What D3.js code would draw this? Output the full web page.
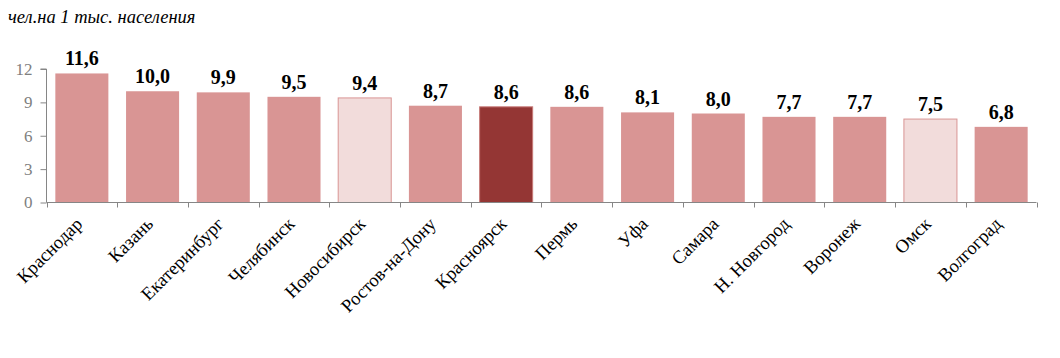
<!DOCTYPE html>
<html><head><meta charset="utf-8">
<script src="https://cdn.jsdelivr.net/npm/d3@7"></script>
<style>body{margin:0;background:#fff}svg{display:block}</style>
</head><body>
<script>
const cities = ["Краснодар","Казань","Екатеринбург","Челябинск","Новосибирск","Ростов-на-Дону","Красноярск","Пермь","Уфа","Самара","Н. Новгород","Воронеж","Омск","Волгоград"];
const values = [11.6,10.0,9.9,9.5,9.4,8.7,8.6,8.6,8.1,8.0,7.7,7.7,7.5,6.8];
const kinds = ["n","n","n","n","light","n","dark","n","n","n","n","n","light","n"];
const yTicks = [0,3,6,9,12];
const unitTitle = "чел.на 1 тыс. населения";

const W=1060,H=358;
const svg=d3.select("body").append("svg").attr("width",W).attr("height",H);
const x=d3.scaleBand().domain(cities).range([46.5,1036.5]).paddingInner(0.25).paddingOuter(0.125);
const y=d3.scaleLinear().domain([0,12]).range([202.5,69]);
const fill={n:"#d99594",light:"#f2dcdb",dark:"#943634"};
const stroke={n:"none",light:"#d99594",dark:"#c77a78"};

svg.append("text").attr("x",8).attr("y",23).attr("font-family","Liberation Serif").attr("font-style","italic").attr("font-size",18.5).attr("fill","#000").text(unitTitle);

svg.selectAll("rect.bar").data(cities).enter().append("rect")
 .attr("x",d=>x(d)).attr("width",x.bandwidth())
 .attr("y",(d,i)=>y(values[i])).attr("height",(d,i)=>y(0)-y(values[i]))
 .attr("fill",(d,i)=>fill[kinds[i]]).attr("stroke",(d,i)=>stroke[kinds[i]]).attr("stroke-width",1);

svg.selectAll("text.val").data(cities).enter().append("text")
 .attr("x",d=>x(d)+x.bandwidth()/2).attr("y",(d,i)=>y(values[i])-8)
 .attr("text-anchor","middle").attr("font-family","Liberation Serif").attr("font-weight","bold").attr("font-size",20)
 .text((d,i)=>d3.format(".1f")(values[i]).replace(".",","));

// y axis
const ya=svg.append("g").attr("transform","translate(46.5,0)")
 .call(d3.axisLeft(y).tickValues(yTicks).tickSize(6).tickPadding(8));
ya.select(".domain").attr("stroke","#868686").attr("d","M-6,"+y(12)+"H0V"+y(0));
ya.selectAll(".tick line").attr("stroke","#868686");
ya.selectAll("text").attr("font-family","Liberation Serif").attr("font-size",17).attr("fill","#7f7f7f");

// x axis
const xa=svg.append("g").attr("transform","translate(0,"+y(0)+")");
xa.append("line").attr("x1",46.5).attr("x2",1036.5).attr("stroke","#868686");
const bounds=[46.5].concat(cities.map(c=>x(c)+x.bandwidth()+x.step()*x.paddingInner()/2));
xa.selectAll("line.t").data(bounds).enter().append("line").attr("x1",d=>Math.round(d)+0.5).attr("x2",d=>Math.round(d)+0.5).attr("y1",0).attr("y2",5).attr("stroke","#868686");
xa.selectAll("text.lab").data(cities).enter().append("text")
 .attr("transform",d=>"translate("+(x(d)+x.bandwidth()/2-3)+",18) rotate(-45)")
 .attr("text-anchor","end").attr("dy","0.35em").attr("font-family","Liberation Serif").attr("font-size",18.5).attr("fill","#000").text(d=>d);
</script>
</body></html>
